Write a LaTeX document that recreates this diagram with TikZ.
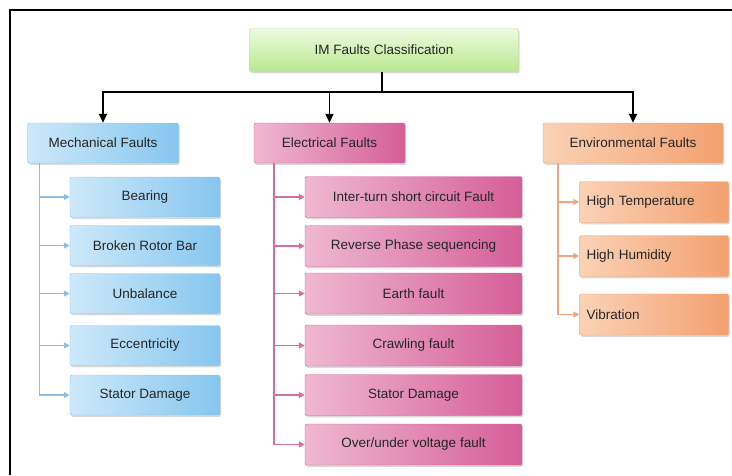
\documentclass[tikz,border=0pt]{standalone}
\usepackage{fontspec}
\setmainfont{Liberation Sans}
\usetikzlibrary{shadows,arrows.meta}

\definecolor{grnL}{HTML}{EEFADF}
\definecolor{grnD}{HTML}{B9E88E}
\definecolor{bluL}{HTML}{CDE8FA}
\definecolor{bluD}{HTML}{86C6EE}
\definecolor{bluE}{HTML}{8DBDE4}
\definecolor{pnkL}{HTML}{EFB8D1}
\definecolor{pnkD}{HTML}{D55E97}
\definecolor{pnkE}{HTML}{D2719F}
\definecolor{orgL}{HTML}{FAD2B6}
\definecolor{orgD}{HTML}{F3A06F}
\definecolor{orgE}{HTML}{F0A67E}

\tikzset{
	box/.style={rectangle, rounded corners=1.5pt, text=black!85,
		font=\fontsize{13.5}{15}\selectfont,
		drop shadow={opacity=0.3, shadow xshift=1.2pt, shadow yshift=-1.8pt}},
	rootbox/.style={box, draw=grnD!80!black!60, top color=grnL, bottom color=grnD,
		minimum width=269pt, minimum height=43pt},
	mechbox/.style={box, draw=bluD, left color=bluL, right color=bluD,
		minimum width=151pt, minimum height=40pt},
	elecbox/.style={box, draw=pnkD, left color=pnkL, right color=pnkD,
		minimum width=151pt, minimum height=40pt},
	envbox/.style={box, draw=orgD, left color=orgL, right color=orgD,
		minimum width=180pt, minimum height=40pt},
	mline/.style={bluE, line width=1.6pt},
	eline/.style={pnkE, line width=1.6pt},
	oline/.style={orgE, line width=1.6pt},
	bigtip/.style={-{Triangle[length=9pt, width=8pt]}},
	tip/.style={-{Triangle[length=6pt, width=6pt]}}
}

\begin{document}
\begin{tikzpicture}[x=1pt, y=-1pt]
	\useasboundingbox (0,0) rectangle (732,475);
	\draw[line width=1.6pt] (10,475) -- (10,10) -- (732,10);

	\node[rootbox] (im) at (384,50) {IM Faults Classification};

	\node[mechbox] (mech) at (103,143) {Mechanical Faults};
	\node[elecbox] (elec) at (329.5,143) {Electrical Faults};
	\node[envbox] (env) at (633,143) {Environmental Faults};

	\coordinate (bus) at (382,92);
	\draw[line width=1.4pt] (im.south -| bus) -- (bus);
	\draw[line width=1.4pt, bigtip] (bus) -| (mech.north);
	\draw[line width=1.4pt, bigtip] (bus) -| (elec.north);
	\draw[line width=1.4pt, bigtip] (bus) -| (env.north);

	% mechanical
	\node[mechbox, minimum width=150pt] (m1) at (145,197) {Bearing};
	\node[mechbox, minimum width=150pt] (m2) at (145,245.5) {Broken Rotor Bar};
	\node[mechbox, minimum width=150pt] (m3) at (145,293.5) {Unbalance};
	\node[mechbox, minimum width=150pt] (m4) at (145,345.5) {Eccentricity};
	\node[mechbox, minimum width=150pt] (m5) at (145,395) {Stator Damage};

	\coordinate (mspine) at ([xshift=12pt]mech.south west);
	\draw[mline] (mspine) -- (mspine |- m5.west);
	\foreach \n in {m1,m2,m3,m4,m5}
		\draw[mline, tip] (mspine |- \n.west) -- (\n.west);

	% electrical
	\node[elecbox, minimum width=217pt, minimum height=41pt] (e1) at (413.5,197) {Inter-turn short circuit Fault};
	\node[elecbox, minimum width=217pt, minimum height=41pt] (e2) at (413.5,246) {Reverse Phase sequencing};
	\node[elecbox, minimum width=217pt, minimum height=41pt] (e3) at (413.5,293.5) {Earth fault};
	\node[elecbox, minimum width=217pt, minimum height=41pt] (e4) at (413.5,345.5) {Crawling fault};
	\node[elecbox, minimum width=217pt, minimum height=41pt] (e5) at (413.5,395) {Stator Damage};
	\node[elecbox, minimum width=217pt, minimum height=41pt] (e6) at (413.5,444.5) {Over/under voltage fault};

	\coordinate (espine) at ([xshift=20pt]elec.south west);
	\draw[eline] (espine) -- (espine |- e6.west);
	\foreach \n in {e1,e2,e3,e4,e5,e6}
		\draw[eline, tip] (espine |- \n.west) -- (\n.west);

	% environmental
	\node[envbox, minimum width=149pt, minimum height=41pt, text width=135pt, align=left] (o1) at (654,202) {High Temperature};
	\node[envbox, minimum width=149pt, minimum height=41pt, text width=135pt, align=left] (o2) at (654,256) {High Humidity};
	\node[envbox, minimum width=149pt, minimum height=41pt, text width=135pt, align=left] (o3) at (654,314.5) {Vibration};

	\coordinate (ospine) at ([xshift=15pt]env.south west);
	\draw[oline] (ospine) -- (ospine |- o3.west);
	\foreach \n in {o1,o2,o3}
		\draw[oline, tip] (ospine |- \n.west) -- (\n.west);
\end{tikzpicture}
\end{document}
